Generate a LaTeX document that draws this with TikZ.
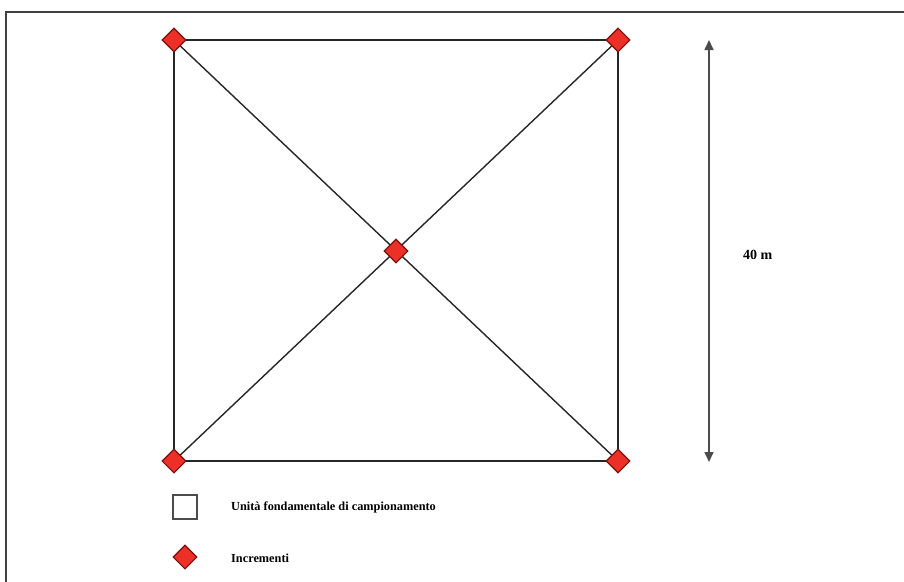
\documentclass[tikz,border=0pt]{standalone}
\usepackage{fontspec}
\setmainfont{Liberation Serif}
\usetikzlibrary{shapes.geometric,arrows.meta}
\definecolor{incred}{HTML}{EC3028}
\definecolor{incborder}{HTML}{7A1010}
\tikzset{
  incr/.style={diamond, draw=incborder, fill=incred, line width=1.1pt, minimum width=24pt, minimum height=24pt, inner sep=0pt},
  edge/.style={draw=black!85, line width=1.4pt},
  lbl/.style={font=\bfseries\fontsize{12.3}{14}\selectfont, anchor=west, inner sep=0pt},
}
\begin{document}
\begin{tikzpicture}[x=1pt,y=-1pt]
\useasboundingbox (0,0) rectangle (904,581);
\draw[black!75, line width=1.8pt] (6,600) -- (6,12) -- (920,12);
\coordinate (tl) at (174,40);
\coordinate (tr) at (618,40);
\coordinate (bl) at (174,461);
\coordinate (br) at (618,461);
\coordinate (c) at (396,251);
\draw[edge] (tl) -- (tr) -- (br) -- (bl) -- cycle;
\draw[edge] (tl) -- (br);
\draw[edge] (tr) -- (bl);
\node[incr] (ntl) at (tl) {};
\node[incr] (ntr) at (tr) {};
\node[incr] (nbl) at (bl) {};
\node[incr] (nbr) at (br) {};
\node[incr] (nc) at (c) {};
\coordinate (atop) at (709,40);
\coordinate (abot) at (709,462);
\draw[black!70, line width=1.6pt, {Triangle[length=10pt,width=9pt]}-{Triangle[length=10pt,width=9pt]}] (atop) -- (abot);
\node[lbl, font=\bfseries\fontsize{14}{16}\selectfont] (dim) at (743,255) {40 m};
\node[draw=black!70, line width=1.3pt, minimum width=24pt, minimum height=24pt, inner sep=0pt] (legsq) at (185,507) {};
\node[lbl] (legsqt) at (231,507) {Unità fondamentale di campionamento};
\node[incr] (legd) at (185,557) {};
\node[lbl] (legdt) at (231,558) {Incrementi};
\end{tikzpicture}
\end{document}
